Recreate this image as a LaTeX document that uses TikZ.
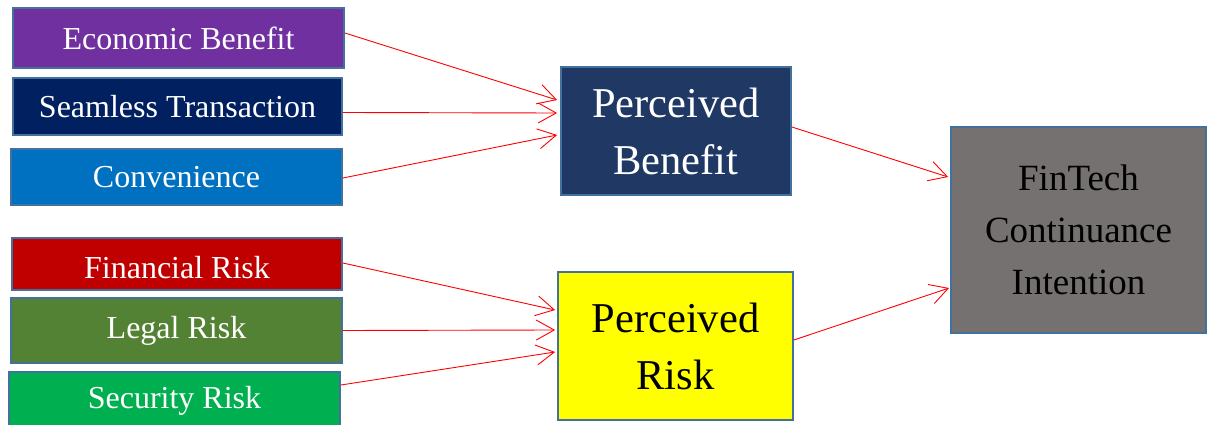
\documentclass[tikz,border=0pt]{standalone}
\usepackage{fontspec}
\setmainfont{Liberation Serif}
\usetikzlibrary{arrows.meta}
\definecolor{cPurple}{HTML}{7030A0}
\definecolor{cNavy}{HTML}{002060}
\definecolor{cBlue}{HTML}{0070C0}
\definecolor{cRed}{HTML}{C00000}
\definecolor{cGreen}{HTML}{548235}
\definecolor{cBright}{HTML}{00B050}
\definecolor{cPB}{HTML}{203864}
\definecolor{cGray}{HTML}{767171}
\definecolor{cYellow}{HTML}{FFFF00}
\definecolor{cBorder}{HTML}{41719C}
\tikzset{
  box/.style={draw=cBorder, line width=1.8pt, rectangle, inner sep=0pt, align=center},
  smallbox/.style={box, text=white, font=\fontsize{32}{36}\selectfont},
  bigbox/.style={box, font=\fontsize{42.5}{57}\selectfont},
  arr/.style={draw=red, line width=0.9pt, -{Straight Barb[length=18pt,width=20pt]}}
}
\begin{document}
\begin{tikzpicture}[x=1pt,y=-1pt]
\useasboundingbox (0,0) rectangle (1208,425);
\begin{scope}
\clip (0,0) rectangle (1208,425);
\node[smallbox, fill=cPurple, minimum width=331pt, minimum height=60pt] (eco) at (178.5,38) {Economic Benefit};
\node[smallbox, fill=cNavy, minimum width=329pt, minimum height=57pt] (sea) at (177.5,106.5) {Seamless Transaction};
\node[smallbox, fill=cBlue, minimum width=331pt, minimum height=56pt] (con) at (176.5,177) {Convenience};
\node[smallbox, fill=cRed, minimum width=330pt, minimum height=52pt] (fin) at (177,264) {\rule{0pt}{30pt}Financial Risk};
\node[smallbox, fill=cGreen, minimum width=331pt, minimum height=65pt] (leg) at (176.5,330.5) {Legal Risk};
\node[smallbox, fill=cBright, minimum width=331pt, minimum height=58pt] (sec) at (174.5,401) {Security Risk};
\node[bigbox, fill=cPB, text=white, minimum width=230pt, minimum height=128pt] (pb) at (676,131) {Perceived\\Benefit};
\node[bigbox, fill=cYellow, text=black, minimum width=235pt, minimum height=148pt] (pr) at (675.5,346) {Perceived\\Risk};
\node[box, fill=cGray, text=black, font=\fontsize{37}{52}\selectfont, minimum width=255pt, minimum height=206pt] (ft) at (1078.5,230) {FinTech\\Continuance\\Intention};
\end{scope}
\draw[arr] ([yshift=5pt]eco.east) -- ([yshift=31pt,xshift=-3pt]pb.west);
\draw[arr] ([yshift=-6pt]sea.east) -- ([yshift=18pt,xshift=-3pt]pb.west);
\draw[arr] ([yshift=-1pt]con.east) -- ([yshift=-4pt,xshift=-3pt]pb.west);
\draw[arr] ([yshift=4pt]pb.east) -- ([yshift=53pt,xshift=-2pt]ft.west);
\draw[arr] ([yshift=1pt]fin.east) -- ([yshift=36pt,xshift=-2pt]pr.west);
\draw[arr] (leg.east) -- ([yshift=16pt,xshift=-2pt]pr.west);
\draw[arr] ([yshift=16pt]sec.east) -- ([yshift=-6pt,xshift=-2pt]pr.west);
\draw[arr] ([yshift=6pt]pr.east) -- ([yshift=-58pt,xshift=-1pt]ft.west);
\end{tikzpicture}
\end{document}
